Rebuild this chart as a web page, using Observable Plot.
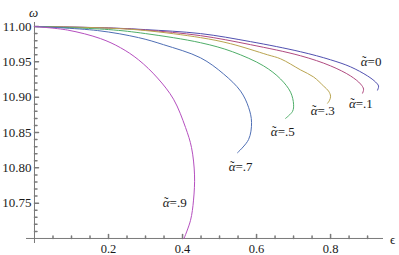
<!DOCTYPE html>
<html><head><meta charset="utf-8">
<script src="https://cdn.jsdelivr.net/npm/d3@7"></script>
<script src="https://cdn.jsdelivr.net/npm/@observablehq/plot@0.6"></script>
<style>body{margin:0;background:#fff}</style>
</head><body><div id="chart"></div>
<script>
// ---- data ----
const alphaLabels = ["0", ".1", ".3", ".5", ".7", ".9"];
const curveColors = ["#5050b0", "#b04a80", "#b9a44f", "#4fae69", "#4f6fb5", "#b54fbf"];

const eps0 = [0, 0.2, 0.3, 0.4486, 0.5838, 0.7189, 0.8, 0.8541, 0.9, 0.9216, 0.9297, 0.927];
const om0  = [11, 10.998, 10.9956, 10.990, 10.9786, 10.9643, 10.9529, 10.9429, 10.93, 10.9214, 10.9157, 10.91];

const eps1 = [0, 0.2, 0.3, 0.4486, 0.5838, 0.7189, 0.8, 0.8541, 0.8811, 0.8892, 0.8865];
const om1  = [11, 10.9979, 10.995, 10.9871, 10.9743, 10.9586, 10.9443, 10.93, 10.9186, 10.9114, 10.9057];

const eps3 = [0, 0.2, 0.3, 0.4486, 0.5297, 0.6297, 0.6649, 0.7189, 0.7541, 0.7811, 0.7946, 0.8, 0.7973, 0.7919];
const om3  = [11, 10.9977, 10.9943, 10.9843, 10.9757, 10.96, 10.9543, 10.9386, 10.9286, 10.9157, 10.9086, 10.9014, 10.8957, 10.8914];

const eps5 = [0, 0.2, 0.3, 0.4486, 0.5351, 0.6189, 0.6649, 0.6919, 0.7, 0.6973, 0.6784];
const om5  = [11, 10.9957, 10.99, 10.9771, 10.9643, 10.9443, 10.9257, 10.9071, 10.89, 10.88, 10.87];

const eps7 = [0, 0.1703, 0.2811, 0.3486, 0.4486, 0.5108, 0.5568, 0.5784, 0.5865, 0.5784, 0.5486];
const om7  = [11, 10.9943, 10.9843, 10.9743, 10.9557, 10.9329, 10.9086, 10.8857, 10.8643, 10.84, 10.8214];

const eps9 = [0, 0.0892, 0.1784, 0.2324, 0.2811, 0.3324, 0.3757, 0.4081, 0.4243, 0.4324, 0.4297, 0.4216, 0.404];
const om9  = [11, 10.995, 10.9829, 10.97, 10.9529, 10.9271, 10.8971, 10.8571, 10.8286, 10.79, 10.7543, 10.7257, 10.700];

const labelEps   = [0.900, 0.868, 0.765, 0.657, 0.543, 0.365];
const labelOmega = [10.950, 10.891, 10.881, 10.851, 10.801, 10.751];

const xMajor = [0.2, 0.4, 0.6, 0.8];
const xMinor = [0.05, 0.1, 0.15, 0.25, 0.3, 0.35, 0.45, 0.5, 0.55, 0.65, 0.7, 0.75, 0.85, 0.9];
const yMajor = [10.75, 10.80, 10.85, 10.90, 10.95, 11.00];
const yMinor = [10.71, 10.72, 10.73, 10.74, 10.76, 10.77, 10.78, 10.79, 10.81, 10.82, 10.83, 10.84,
                10.86, 10.87, 10.88, 10.89, 10.91, 10.92, 10.93, 10.94, 10.96, 10.97, 10.98, 10.99];
const xOrigin = 0;
const yOrigin = 10.70;
const xDomain = [-0.0216, 0.943];
const yDomain = [10.6929, 11.0057];
const xAxisName = "ϵ";
const yAxisName = "ω";

// ---- build tables ----
const epsSets = [eps0, eps1, eps3, eps5, eps7, eps9];
const omSets = [om0, om1, om3, om5, om7, om9];
const curves = [];
epsSets.forEach((es, k) => es.forEach((e, i) => curves.push({alpha: alphaLabels[k], eps: e, omega: omSets[k][i]})));
const labels = alphaLabels.map((a, k) => ({alpha: a, eps: labelEps[k], omega: labelOmega[k]}));

const serif = "Liberation Serif, DejaVu Serif, serif";
const axisColor = "#7a7a7a";
const textColor = "#1a1a1a";
const spike = {draw(ctx, l) { ctx.moveTo(0, 0); ctx.lineTo(0, -l); }};

const chart = Plot.plot({
  width: 399, height: 255,
  marginLeft: 26, marginRight: 16, marginTop: 22, marginBottom: 12,
  x: {domain: xDomain, axis: null},
  y: {domain: yDomain, axis: null},
  color: {domain: alphaLabels, range: curveColors},
  style: {background: "#fff", overflow: "visible", fontFamily: serif},
  marks: [
    Plot.ruleX([xOrigin], {stroke: axisColor, strokeWidth: 1}),
    Plot.ruleY([yOrigin], {stroke: axisColor, strokeWidth: 1}),
    Plot.vector(xMajor, {x: d => d, y: () => yOrigin, length: 4, rotate: 0, anchor: "start", shape: spike, stroke: axisColor}),
    Plot.vector(xMinor, {x: d => d, y: () => yOrigin, length: 2.5, rotate: 0, anchor: "start", shape: spike, stroke: axisColor}),
    Plot.vector(yMajor, {x: () => xOrigin, y: d => d, length: 4, rotate: 90, anchor: "start", shape: spike, stroke: axisColor}),
    Plot.vector(yMinor, {x: () => xOrigin, y: d => d, length: 2.5, rotate: 90, anchor: "start", shape: spike, stroke: axisColor}),
    Plot.text(yMajor, {x: () => xOrigin, y: d => d, text: d => d.toFixed(2), textAnchor: "end", dx: -3,
      fontSize: 13, fontFamily: serif, fill: textColor}),
    Plot.text(xMajor, {x: d => d, y: () => yOrigin, text: d => d.toFixed(1), dy: 10.5,
      fontSize: 12.5, fontFamily: serif, fill: textColor}),
    Plot.text([yAxisName], {x: () => xOrigin, y: () => yDomain[1], dx: -1, dy: -10, textAnchor: "middle", lineAnchor: "middle",
      fontSize: 13, fontStyle: "italic", fontFamily: serif, fill: textColor}),
    Plot.text([xAxisName], {x: () => xDomain[1], y: () => yOrigin, dx: 9, dy: 1, textAnchor: "middle", lineAnchor: "middle",
      fontSize: 13, fontFamily: serif, fill: textColor}),
    Plot.line(curves, {x: "eps", y: "omega", z: "alpha", stroke: "alpha", strokeWidth: 1, curve: "catmull-rom"}),
    Plot.text(labels, {x: "eps", y: "omega", text: () => "α", textAnchor: "end", fontStyle: "italic",
      fontSize: 13, fontFamily: serif, fill: textColor}),
    Plot.text(labels, {x: "eps", y: "omega", text: () => "\u02DC", textAnchor: "end", dx: -1.2, dy: -1,
      fontSize: 13, fontFamily: serif, fill: textColor}),
    Plot.text(labels, {x: "eps", y: "omega", text: d => "=" + d.alpha, textAnchor: "start",
      fontSize: 13, fontFamily: serif, fill: textColor})
  ]
});
document.getElementById("chart").appendChild(chart);
</script>
</body></html>
